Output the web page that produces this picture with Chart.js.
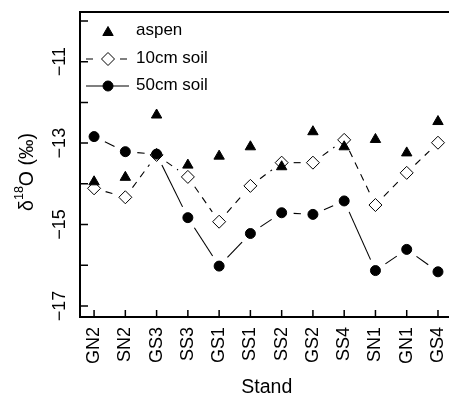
<!DOCTYPE html>
<html>
<head>
<meta charset="utf-8">
<script src="https://cdn.jsdelivr.net/npm/chart.js@4/dist/chart.umd.min.js"></script>
<style>
  html, body { margin: 0; padding: 0; background: #fff; overflow: hidden; }
  #wrap { width: 449px; height: 396px; overflow: hidden; }
</style>
</head>
<body>
<div id="wrap"><canvas id="c" width="470" height="396"></canvas></div>
<script>
// stands along the x axis
const stands = ["GN2", "SN2", "GS3", "SS3", "GS1", "SS1", "SS2", "GS2", "SS4", "SN1", "GN1", "GS4"];
// d18O values
const aspen = [-13.95, -13.84, -12.31, -13.54, -13.32, -13.09, -13.58, -12.72, -13.09, -12.91, -13.24, -12.47];
const soil10 = [-14.11, -14.33, -13.29, -13.83, -14.93, -14.05, -13.48, -13.48, -12.92, -14.52, -13.73, -12.99];
const soil50 = [-12.84, -13.21, -13.27, -14.83, -16.02, -15.22, -14.71, -14.75, -14.42, -16.13, -15.61, -16.16];
const yTicks = [-17, -16, -15, -14, -13, -12, -11, -10];
const yLabelled = [-17, -15, -13, -11];

const FONT = "'Liberation Sans', Arial, Helvetica, sans-serif";
const GAP = 12;

const toPoints = (arr) => arr.map((v, i) => ({ x: i + 1, y: v }));

// lines with a gap round each point (R type = "b")
const gappedLines = {
  id: "gappedLines",
  beforeDatasetsDraw(chart) {
    const ctx = chart.ctx;
    chart.data.datasets.forEach((ds, i) => {
      if (!ds.joined) return;
      const pts = chart.getDatasetMeta(i).data;
      ctx.save();
      ctx.strokeStyle = "#000";
      ctx.lineWidth = 1.1;
      ctx.setLineDash(ds.borderDash || []);
      for (let k = 0; k < pts.length - 1; k++) {
        const a = pts[k], b = pts[k + 1];
        const dx = b.x - a.x, dy = b.y - a.y;
        const len = Math.hypot(dx, dy);
        if (len <= 2 * GAP) continue;
        const ux = dx / len, uy = dy / len;
        ctx.beginPath();
        ctx.moveTo(a.x + ux * GAP, a.y + uy * GAP);
        ctx.lineTo(b.x - ux * GAP, b.y - uy * GAP);
        ctx.stroke();
      }
      ctx.restore();
    });
  },
};

// box and inward tick marks, y labels, legend, y title
const decorations = {
  id: "decorations",
  afterDraw(chart) {
    const ctx = chart.ctx;
    const area = chart.chartArea;
    const xs = chart.scales.x, ys = chart.scales.y;
    ctx.save();
    ctx.strokeStyle = "#000";
    ctx.lineWidth = 2;
    ctx.strokeRect(area.left, area.top, area.right - area.left, area.bottom - area.top);
    ctx.lineWidth = 1.5;
    ctx.beginPath();
    xs.ticks.forEach((t) => {
      const px = xs.getPixelForValue(t.value);
      ctx.moveTo(px, area.bottom);
      ctx.lineTo(px, area.bottom - 7);
    });
    ys.ticks.forEach((t) => {
      const py = ys.getPixelForValue(t.value);
      ctx.moveTo(area.left, py);
      ctx.lineTo(area.left + 8, py);
    });
    ctx.stroke();

    // rotated y tick labels
    ctx.fillStyle = "#000";
    ctx.font = "18px " + FONT;
    ctx.textAlign = "center";
    ctx.textBaseline = "alphabetic";
    ys.ticks.forEach((t) => {
      if (!yLabelled.includes(t.value)) return;
      const py = ys.getPixelForValue(t.value);
      ctx.save();
      ctx.translate(59, py);
      ctx.rotate(-Math.PI / 2);
      ctx.fillText("\u2212" + Math.abs(t.value), 0, 6.4);
      ctx.restore();
    });

    // legend
    const rows = [31, 59, 86];
    const symX = 108;
    ctx.font = "17px " + FONT;
    ctx.textBaseline = "middle";
    ctx.textAlign = "left";
    chart.data.datasets.forEach((ds, i) => {
      const y = rows[i];
      ctx.lineWidth = 1.1;
      ctx.strokeStyle = "#000";
      if (ds.joined) {
        ctx.setLineDash(ds.borderDash || []);
        ctx.beginPath();
        if (ds.borderDash) {
          ctx.moveTo(86, y); ctx.lineTo(symX - GAP, y);
          ctx.moveTo(symX + GAP, y); ctx.lineTo(130, y);
        } else {
          ctx.moveTo(86, y); ctx.lineTo(129, y);
        }
        ctx.stroke();
        ctx.setLineDash([]);
      }
      ctx.fillStyle = ds.pointBackgroundColor;
      ctx.strokeStyle = "#000";
      ctx.lineWidth = ds.pointBorderWidth;
      Chart.helpers.drawPoint(ctx, {
        pointStyle: ds.pointStyle, radius: ds.pointRadius, rotation: 0, borderWidth: ds.pointBorderWidth,
      }, symX, y + (ds.pointStyle === "triangle" ? 1.5 : 0));
      ctx.fillStyle = "#000";
      ctx.fillText(ds.label, 136, y - 1);
    });

    // y axis title with superscript
    ctx.translate(32.5, 172);
    ctx.rotate(-Math.PI / 2);
    const big = "19.5px " + FONT, small = "12.5px " + FONT;
    ctx.font = big;
    const wD = ctx.measureText("\u03b4").width;
    const wO = ctx.measureText("O (\u2030)").width;
    ctx.font = small;
    const wS = ctx.measureText("18").width;
    let x = -(wD + wS + wO) / 2;
    ctx.textAlign = "left";
    ctx.textBaseline = "alphabetic";
    ctx.font = big;
    ctx.fillText("\u03b4", x, 0);
    x += wD;
    ctx.font = small;
    ctx.fillText("18", x, -9.5);
    x += wS;
    ctx.font = big;
    ctx.fillText("O (\u2030)", x, 0);
    ctx.restore();
  },
};

new Chart(document.getElementById("c"), {
  type: "scatter",
  data: {
    datasets: [
      {
        label: "aspen",
        data: toPoints(aspen),
        pointStyle: "triangle",
        pointRadius: 6,
        pointHoverRadius: 6,
        pointBackgroundColor: "#000",
        pointBorderColor: "#000",
        pointBorderWidth: 1,
        showLine: false,
        order: 0,
      },
      {
        label: "10cm soil",
        data: toPoints(soil10),
        joined: true,
        borderDash: [7, 6],
        pointStyle: "rectRot",
        pointRadius: 6.5,
        pointHoverRadius: 6.5,
        pointBackgroundColor: "#fff",
        pointBorderColor: "#000",
        pointBorderWidth: 1,
        showLine: false,
        order: 2,
      },
      {
        label: "50cm soil",
        data: toPoints(soil50),
        joined: true,
        pointStyle: "circle",
        pointRadius: 5,
        pointHoverRadius: 5,
        pointBackgroundColor: "#000",
        pointBorderColor: "#000",
        pointBorderWidth: 1,
        showLine: false,
        order: 1,
      },
    ],
  },
  options: {
    responsive: false,
    animation: false,
    devicePixelRatio: 1,
    layout: { padding: { left: 0, top: 12, right: 10, bottom: 0 } },
    plugins: { legend: { display: false }, tooltip: { enabled: false } },
    scales: {
      x: {
        type: "linear",
        min: 0.55,
        max: 12.5,
        afterBuildTicks: (s) => { s.ticks = stands.map((_, i) => ({ value: i + 1 })); },
        afterFit: (s) => { s.height = 79; },
        grid: { display: false, drawTicks: false },
        border: { display: false },
        ticks: {
          autoSkip: false,
          minRotation: 90,
          maxRotation: 90,
          padding: 10,
          color: "#000",
          font: { size: 18, family: FONT },
          callback: (v) => stands[v - 1] || "",
        },
        title: {
          display: true,
          text: "Stand",
          color: "#000",
          font: { size: 19.5, family: FONT },
          padding: { top: -3, bottom: -3 },
        },
      },
      y: {
        min: -17.27,
        max: -9.78,
        afterBuildTicks: (s) => { s.ticks = yTicks.map((v) => ({ value: v })); },
        afterFit: (s) => { s.width = 80; },
        grid: { display: false, drawTicks: false },
        border: { display: false },
        ticks: { display: false },
      },
    },
  },
  plugins: [gappedLines, decorations],
});
</script>
</body>
</html>
